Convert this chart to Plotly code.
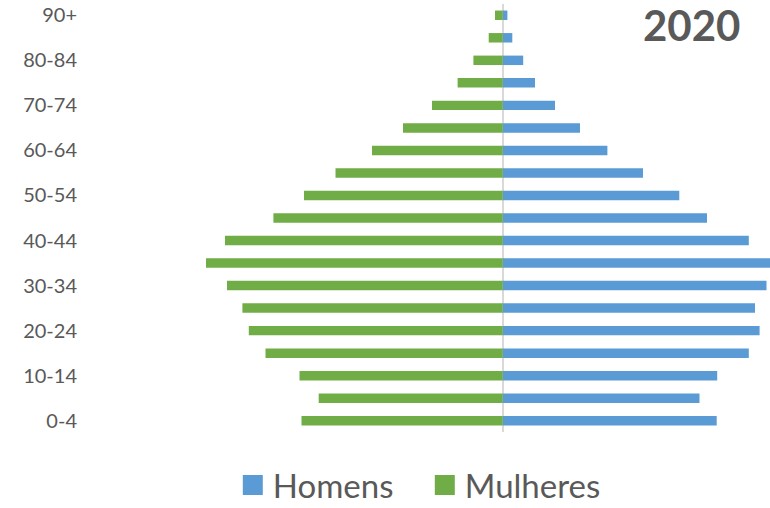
import plotly.graph_objects as go

age_groups = ["0-4", "5-9", "10-14", "15-19", "20-24", "25-29", "30-34", "35-39",
              "40-44", "45-49", "50-54", "55-59", "60-64", "65-69", "70-74",
              "75-79", "80-84", "85-89", "90+"]
homens = [213.9, 196.7, 214.4, 246.0, 256.8, 252.2, 263.7, 267.5, 246.0, 204.2,
          176.5, 140.2, 104.6, 77.2, 52.2, 32.2, 20.4, 9.5, 4.6]
mulheres = [201.3, 184.1, 203.3, 237.3, 254.0, 260.4, 275.8, 296.8, 277.8, 229.4,
            198.8, 167.3, 130.8, 99.8, 70.8, 45.2, 29.4, 14.1, 7.8]
tick_labels = age_groups[::2]
title_text = "2020"

BLUE = "#5B9BD5"
GREEN = "#70AD47"
GRAY = "#595959"

fig = go.Figure()
fig.add_trace(go.Bar(y=age_groups, x=homens, orientation="h", name="Homens",
                     marker=dict(color=BLUE, line=dict(width=0)), showlegend=False))
fig.add_trace(go.Bar(y=age_groups, x=[-v for v in mulheres], orientation="h", name="Mulheres",
                     marker=dict(color=GREEN, line=dict(width=0)), showlegend=False))
# legend entries
fig.add_trace(go.Scatter(x=[None], y=[None], mode="markers", name="Homens",
                         marker=dict(symbol="square", size=16, color=BLUE,
                                     line=dict(color=BLUE, width=4))))
fig.add_trace(go.Scatter(x=[None], y=[None], mode="markers", name="Mulheres",
                         marker=dict(symbol="square", size=16, color=GREEN,
                                     line=dict(color=GREEN, width=4))))

fig.update_layout(
    width=770, height=508,
    margin=dict(l=90, r=0, t=4, b=76, autoexpand=False),
    paper_bgcolor="white", plot_bgcolor="white",
    barmode="overlay", bargap=0.58,
    font=dict(family="Lato, 'Open Sans', sans-serif", color=GRAY),
    xaxis=dict(range=[-412.8, 267.2], showgrid=False, showticklabels=False,
               zeroline=True, zerolinecolor="#D9D9D9", zerolinewidth=1.5,
               showline=False, fixedrange=True),
    yaxis=dict(type="category", categoryorder="array", categoryarray=age_groups,
               tickmode="array", tickvals=tick_labels, ticktext=tick_labels,
               showgrid=False, zeroline=False, showline=False, ticks="",
               tickfont=dict(size=20, color=GRAY), ticklabelstandoff=12,
               range=[-0.5, 18.5]),
    legend=dict(orientation="h", x=0.21, xanchor="left", y=-0.124, yanchor="middle",
                font=dict(size=33, color=GRAY), itemwidth=30, tracegroupgap=0,
                entrywidth=147, bgcolor="rgba(0,0,0,0)"),
    showlegend=True,
)
fig.add_annotation(text="<b>2020</b>", xref="paper", yref="paper", x=0.884, y=0.951,
                   xanchor="center", yanchor="middle", showarrow=False,
                   font=dict(size=42, color=GRAY, family="Lato, 'Open Sans', sans-serif"))

fig.write_html("out.html", config={"displayModeBar": False},
               post_script="document.body.style.margin='0';document.body.style.overflow='hidden';")
